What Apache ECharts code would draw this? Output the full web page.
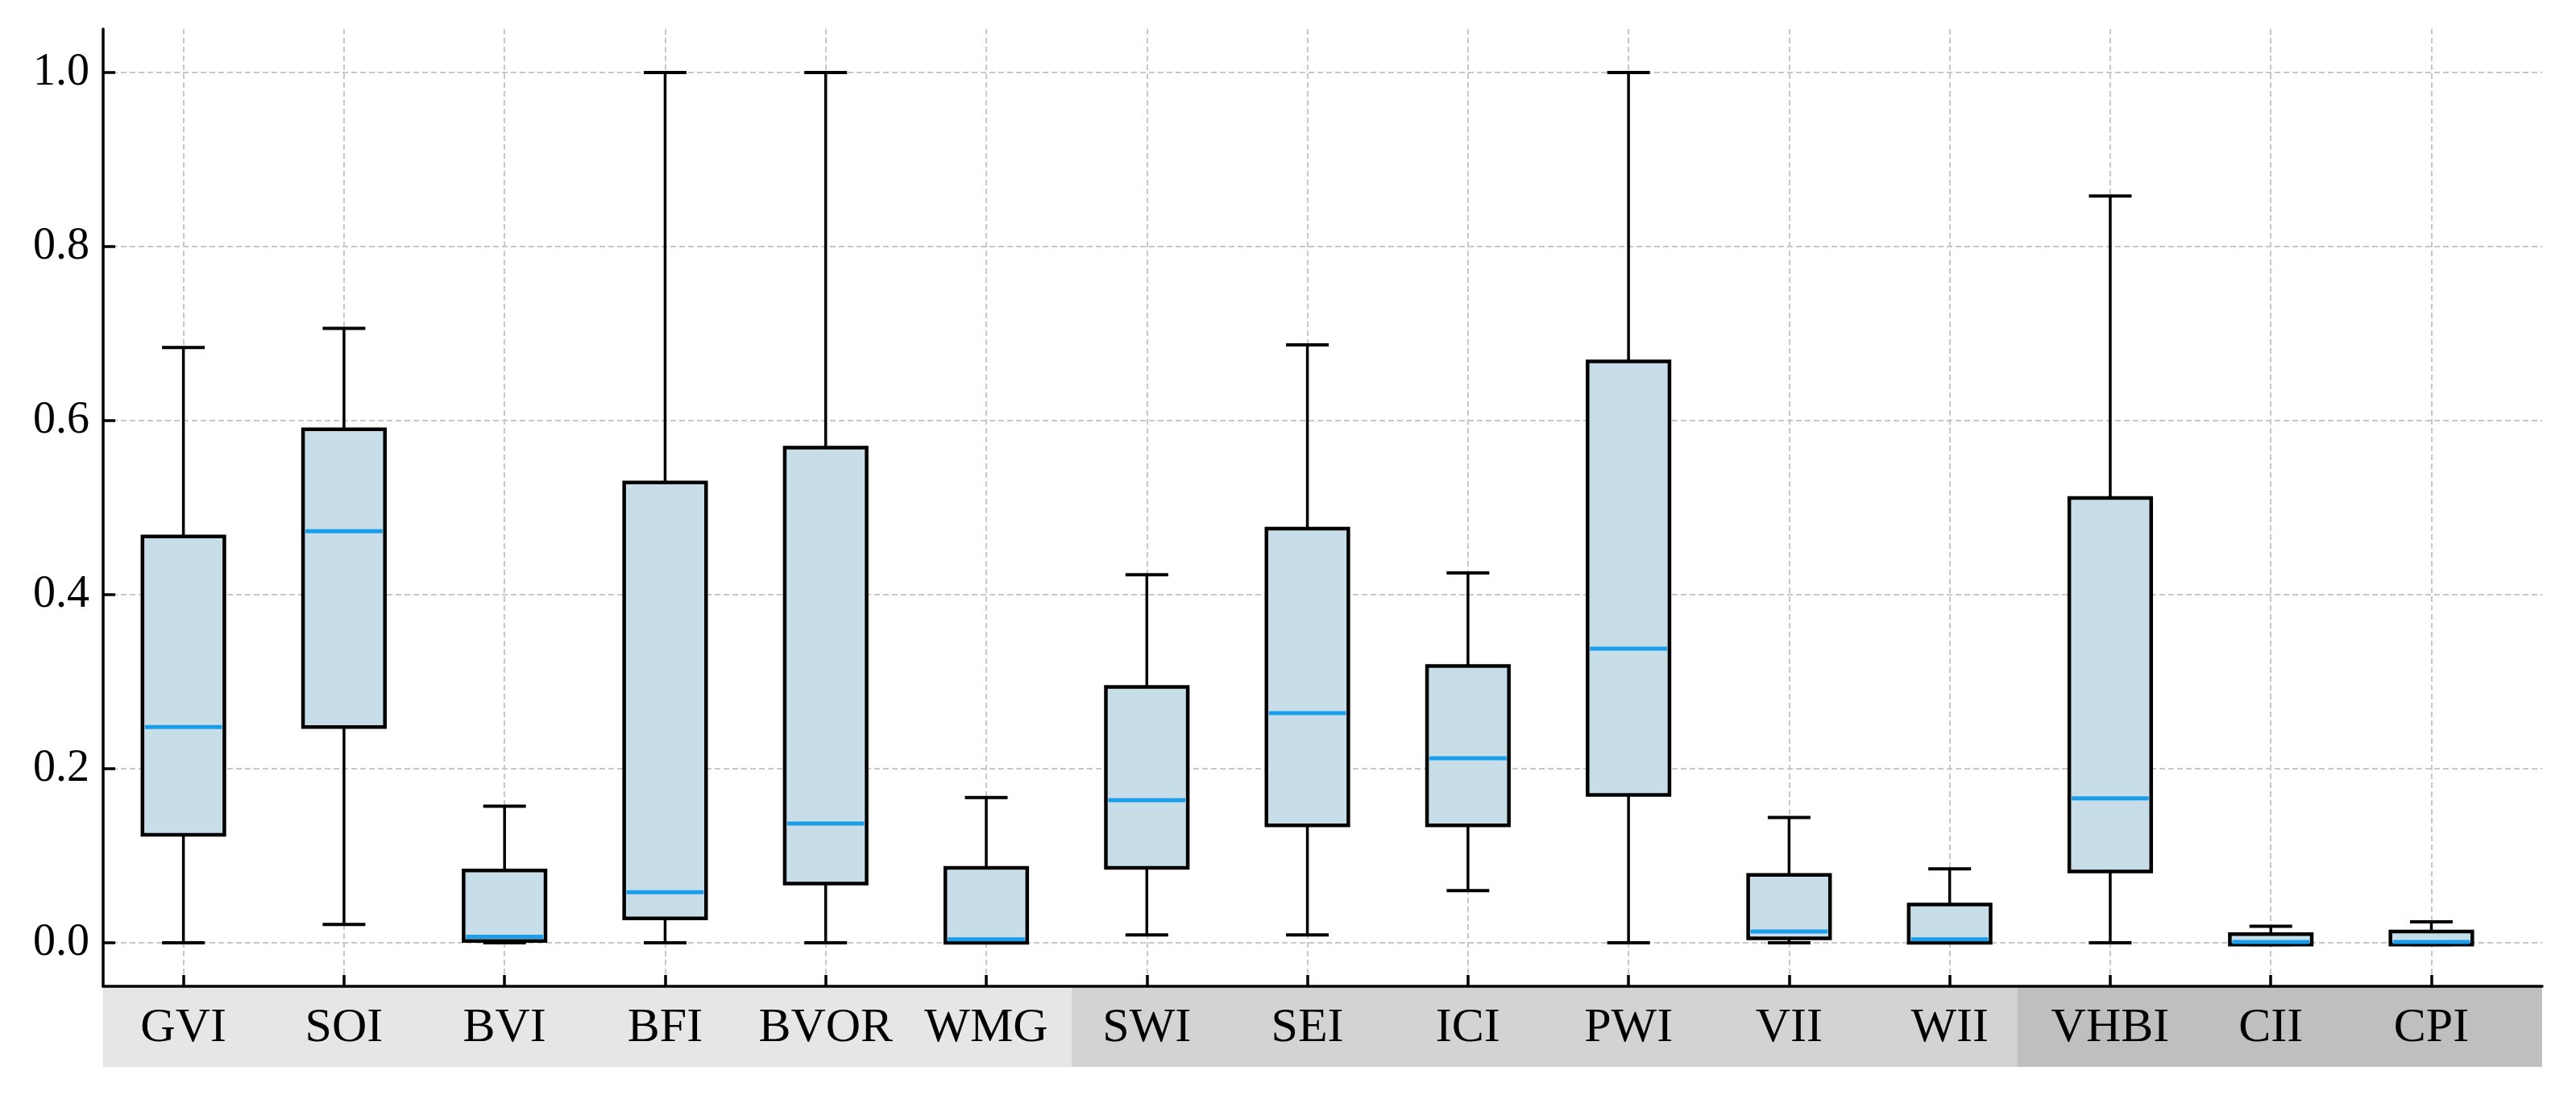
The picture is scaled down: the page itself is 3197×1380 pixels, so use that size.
<!DOCTYPE html>
<html>
<head>
<meta charset="utf-8">
<script src="https://cdn.jsdelivr.net/npm/echarts@6/dist/echarts.min.js"></script>
<style>
  html, body { margin: 0; padding: 0; background: #fff; }
  #main { width: 3197px; height: 1380px; }
</style>
</head>
<body>
<div id="main"></div>
<script>
// indicators on the x axis
const categories = ['GVI', 'SOI', 'BVI', 'BFI', 'BVOR', 'WMG', 'SWI', 'SEI', 'ICI', 'PWI', 'VII', 'WII', 'VHBI', 'CII', 'CPI'];

// five-number summaries
const minVals = [0, 0.021, 0, 0, 0, 0, 0.009, 0.009, 0.060, 0, 0, 0, 0, -0.002, -0.002];
const q1Vals = [0.124, 0.248, 0.002, 0.028, 0.068, 0, 0.086, 0.135, 0.135, 0.170, 0.005, 0, 0.082, -0.002, -0.002];
const medVals = [0.248, 0.473, 0.007, 0.058, 0.137, 0.004, 0.164, 0.264, 0.212, 0.338, 0.013, 0.004, 0.166, 0.001, 0.001];
const q3Vals = [0.467, 0.590, 0.083, 0.529, 0.569, 0.086, 0.294, 0.476, 0.318, 0.668, 0.078, 0.044, 0.511, 0.010, 0.013];
const maxVals = [0.684, 0.706, 0.157, 1.0, 1.0, 0.167, 0.423, 0.687, 0.425, 1.0, 0.144, 0.085, 0.858, 0.019, 0.024];

// y tick labels
const yTicks = [0, 0.2, 0.4, 0.6, 0.8, 1.0];

// shaded groups under the x axis (edges in x units)
const groupEdges = [0.5, 6.53, 12.42, 15.69];
const groupColors = ['#e6e6e6', '#d3d3d3', '#bfbfbf'];

const xPos = categories.map((c, i) => i + 1);
const boxData = categories.map((c, i) => [xPos[i], minVals[i], q1Vals[i], medVals[i], q3Vals[i], maxVals[i]]);
const bandData = groupColors.map((c, i) => [groupEdges[i], groupEdges[i + 1], i]);

const FONT = '"Liberation Serif", "DejaVu Serif", serif';
const BOX_HALF = 0.255;
const CAP_HALF = 0.133;

function renderBox(params, api) {
    const x = api.value(0);
    const mn = api.value(1), q1 = api.value(2), md = api.value(3), q3 = api.value(4), mx = api.value(5);
    const pTop = api.coord([x, mx]);
    const pQ3 = api.coord([x, q3]);
    const pQ1 = api.coord([x, q1]);
    const pBot = api.coord([x, mn]);
    const tl = api.coord([x - BOX_HALF, q3]);
    const br = api.coord([x + BOX_HALF, q1]);
    const capL = api.coord([x - CAP_HALF, 0])[0];
    const capR = api.coord([x + CAP_HALF, 0])[0];
    const mdL = api.coord([x - BOX_HALF, md]);
    const mdR = api.coord([x + BOX_HALF, md]);
    const black = { stroke: '#000', lineWidth: 3.5 };
    const cap = { stroke: '#000', lineWidth: 4 };
    return {
        type: 'group',
        children: [
            { type: 'line', shape: { x1: pTop[0], y1: pTop[1], x2: pQ3[0], y2: pQ3[1] }, style: black },
            { type: 'line', shape: { x1: pBot[0], y1: pBot[1], x2: pQ1[0], y2: pQ1[1] }, style: black },
            { type: 'line', shape: { x1: capL, y1: pTop[1], x2: capR, y2: pTop[1] }, style: cap },
            { type: 'line', shape: { x1: capL, y1: pBot[1], x2: capR, y2: pBot[1] }, style: cap },
            {
                type: 'rect',
                shape: { x: tl[0], y: tl[1], width: br[0] - tl[0], height: br[1] - tl[1] },
                style: { fill: '#c7dde8', stroke: '#000', lineWidth: 4.5 }
            },
            {
                type: 'line',
                shape: { x1: mdL[0] + 3, y1: mdL[1], x2: mdR[0] - 3, y2: mdR[1] },
                style: { stroke: '#1a9eea', lineWidth: 5 }
            }
        ]
    };
}

function renderBand(params, api) {
    const a = api.coord([api.value(0), 1]);
    const b = api.coord([api.value(1), 0]);
    return {
        type: 'rect',
        shape: { x: a[0], y: a[1], width: b[0] - a[0], height: b[1] - a[1] },
        style: { fill: groupColors[api.value(2)] }
    };
}

const chart = echarts.init(document.getElementById('main'));
chart.setOption({
    backgroundColor: '#fff',
    animation: false,
    grid: [
        { left: 128, top: 36, width: 3027, height: 1188, containLabel: false, outerBoundsMode: 'none' },
        { left: 128, top: 1225, width: 3027, height: 99, containLabel: false, outerBoundsMode: 'none' }
    ],
    xAxis: [
        {
            type: 'value',
            gridIndex: 0,
            min: 0.5,
            max: 15.69,
            axisLine: { show: true, onZero: false, lineStyle: { color: '#000', width: 3.5 } },
            axisTick: {
                show: true, inside: true, length: 14,
                customValues: xPos,
                lineStyle: { color: '#000', width: 3.5 }
            },
            axisLabel: {
                show: true,
                customValues: xPos,
                formatter: v => categories[Math.round(v) - 1] || '',
                fontFamily: FONT,
                fontSize: 60,
                color: '#000',
                margin: 22
            },
            splitLine: { show: true, lineStyle: { color: '#c8c8c8', width: 2, type: [7, 4] } }
        },
        { type: 'value', gridIndex: 1, min: 0.5, max: 15.69, show: false }
    ],
    yAxis: [
        {
            type: 'value',
            gridIndex: 0,
            min: -0.05,
            max: 1.05,
            axisLine: { show: true, onZero: false, lineStyle: { color: '#000', width: 3.5 } },
            axisTick: {
                show: true, inside: true, length: 15,
                customValues: yTicks,
                lineStyle: { color: '#000', width: 3.5 }
            },
            axisLabel: {
                show: true,
                customValues: yTicks,
                formatter: v => v.toFixed(1),
                fontFamily: FONT,
                fontSize: 56,
                color: '#000',
                margin: 17
            },
            splitLine: { show: true, lineStyle: { color: '#c8c8c8', width: 2, type: [7, 4] } }
        },
        { type: 'value', gridIndex: 1, min: 0, max: 1, show: false }
    ],
    series: [
        {
            type: 'custom',
            name: 'groups',
            xAxisIndex: 1,
            yAxisIndex: 1,
            z: -1,
            silent: true,
            renderItem: renderBand,
            data: bandData
        },
        {
            type: 'custom',
            name: 'boxes',
            xAxisIndex: 0,
            yAxisIndex: 0,
            z: 2,
            renderItem: renderBox,
            data: boxData
        }
    ]
});
</script>
</body>
</html>
